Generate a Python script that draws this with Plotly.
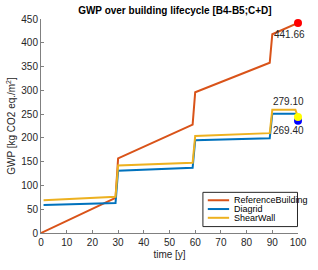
import plotly.graph_objects as go

title = "GWP over building lifecycle [B4-B5;C+D]"
x_years = [0, 29, 30, 59, 60, 89, 90, 99, 100]
x_years_alt = [1, 29, 30, 59, 60, 89, 90, 99, 100]
ref_vals = [0, 74, 157, 228, 296, 358, 418, 439, 441.66]
diagrid_vals = [59, 63, 131, 137, 195, 199, 251, 251, 236]
shear_vals = [69, 76, 142, 147.5, 204, 210, 259, 259, 244]
series_names = ["ReferenceBuilding", "Diagrid", "ShearWall"]
series_colors = ["#D95319", "#0072BD", "#EDB120"]
end_x = 100
end_ref = 441.66
end_diag = 236
end_shear = 244
label_ref = "441.66"
label_shear = "279.10"
label_diag = "269.40"

fnt = "Liberation Sans, Arial, sans-serif"
fig = go.Figure()
fig.add_trace(go.Scatter(x=x_years, y=ref_vals, mode="lines", name=series_names[0],
                         line=dict(color=series_colors[0], width=2)))
fig.add_trace(go.Scatter(x=x_years_alt, y=diagrid_vals, mode="lines", name=series_names[1],
                         line=dict(color=series_colors[1], width=2)))
fig.add_trace(go.Scatter(x=x_years_alt, y=shear_vals, mode="lines", name=series_names[2],
                         line=dict(color=series_colors[2], width=2)))
fig.add_trace(go.Scatter(x=[end_x], y=[end_ref], mode="markers",
                         marker=dict(color="#FF0000", size=8, line=dict(width=0)), cliponaxis=False))
fig.add_trace(go.Scatter(x=[end_x], y=[end_diag], mode="markers",
                         marker=dict(color="#0000FF", size=8, line=dict(width=0)), cliponaxis=False))
fig.add_trace(go.Scatter(x=[end_x], y=[end_shear], mode="markers",
                         marker=dict(color="#FFFF00", size=8, line=dict(width=0)), cliponaxis=False))

for txt, xx, yy in [(label_ref, 96.8, 417), (label_shear, 96.3, 276), (label_diag, 96.3, 216)]:
    fig.add_annotation(x=xx, y=yy, text=txt, showarrow=False,
                       font=dict(family=fnt, size=10, color="#262626"))

# custom compact legend (MATLAB style)
fig.add_shape(type="rect", xref="x domain", yref="y domain", x0=0.63, x1=0.998, y0=0.030, y1=0.19,
              line=dict(color="#262626", width=1), fillcolor="white", layer="above")
leg_y = [0.153, 0.112, 0.071]
for name, col, yy in zip(series_names, series_colors, leg_y):
    fig.add_shape(type="line", xref="x domain", yref="y domain", x0=0.649, x1=0.732, y0=yy, y1=yy,
                  line=dict(color=col, width=2), layer="above")
    fig.add_annotation(xref="x domain", yref="y domain", x=0.743, y=yy, text=name, showarrow=False,
                       xanchor="left", yanchor="middle",
                       font=dict(family=fnt, size=9, color="black"))

axis_common = dict(showgrid=False, zeroline=False, showline=True, linecolor="#808080",
                   linewidth=1, ticks="inside", ticklen=3, tickcolor="#808080",
                   tickfont=dict(family=fnt, size=10, color="#262626"), mirror=False)
fig.update_layout(
    width=318, height=270,
    margin=dict(l=40, r=11.5, t=19, b=31),
    paper_bgcolor="white", plot_bgcolor="white",
    showlegend=False,
    title=dict(text="<b>" + title + "</b>", x=0.55, xanchor="center", y=0.96, yanchor="middle",
               font=dict(family=fnt, size=10, color="black")),
    xaxis=dict(range=[0, 100], dtick=10, tick0=0,
               title=dict(text="time [y]", standoff=3, font=dict(family=fnt, size=10, color="#262626")),
               **axis_common),
    yaxis=dict(range=[0, 450], dtick=50, tick0=0,
               title=dict(text="GWP [kg CO2 eq./m<sup>2</sup>]", standoff=3,
                          font=dict(family=fnt, size=10, color="#262626")),
               **axis_common),
)
fig.write_html("out.html", config={"displayModeBar": False},
               post_script="document.body.style.margin='0';document.body.style.overflow='hidden';")
